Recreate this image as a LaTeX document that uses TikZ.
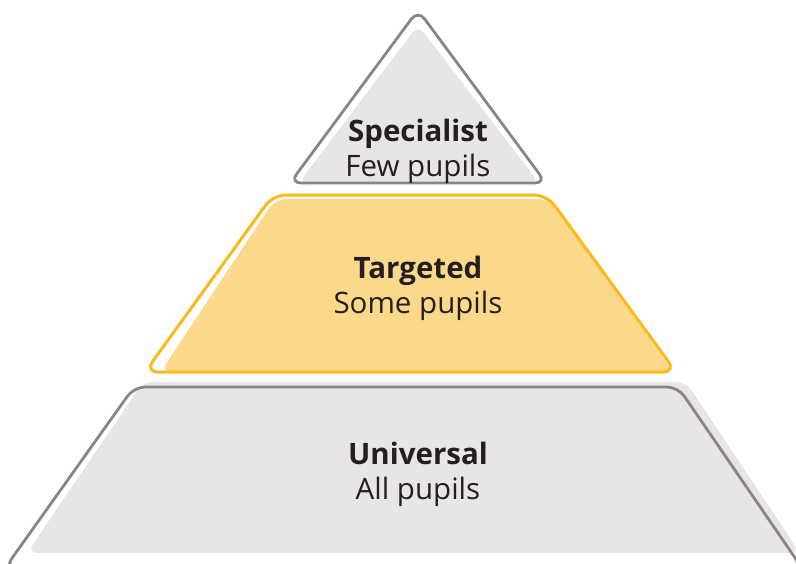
\documentclass[tikz,border=0pt]{standalone}
\usepackage{fontspec}
\setmainfont{Open Sans}
\definecolor{grayline}{HTML}{8A8584}
\definecolor{grayfill}{HTML}{E8E6E5}
\definecolor{goldline}{HTML}{FBBA1A}
\definecolor{goldfill}{HTML}{FCD98A}
\definecolor{txt}{HTML}{231F20}
\begin{document}
\begin{tikzpicture}[x=1pt,y=-1pt,
  grayshape/.style={fill=grayfill,rounded corners=10pt},
  grayedge/.style={draw=grayline,line width=2.8pt,rounded corners=11pt},
  goldshape/.style={fill=goldfill,rounded corners=12pt},
  goldedge/.style={draw=goldline,line width=3pt,rounded corners=13pt},
  tier/.style={text=txt,align=center,font=\fontsize{29.5}{35}\selectfont}]
\useasboundingbox (0,0) rectangle (796,563);
\clip (0,0) rectangle (796,563);
% bottom tier
\path[grayshape] (143,382) -- (686,382) -- (800,553) -- (27,553) -- cycle;
\path[grayedge] (134,387) -- (678,387) -- (802,568) -- (5,568) -- cycle;
% middle tier
\path[goldshape] (275,199) -- (550,199) -- (674,373) -- (160,373) -- cycle;
\path[goldedge] (273,195) -- (547,195) -- (676,372) -- (145,372) -- cycle;
% top tier
\path[grayshape] (418,25) -- (540,184) -- (298,184) -- cycle;
\path[grayedge] (418,10) -- (546,183) -- (290,183) -- cycle;
% labels
\node[tier] (spec) at (418,151) {\textbf{Specialist}\\Few pupils};
\node[tier] (targ) at (418,288) {\textbf{Targeted}\\Some pupils};
\node[tier] (univ) at (418,474) {\textbf{Universal}\\All pupils};
\end{tikzpicture}
\end{document}
